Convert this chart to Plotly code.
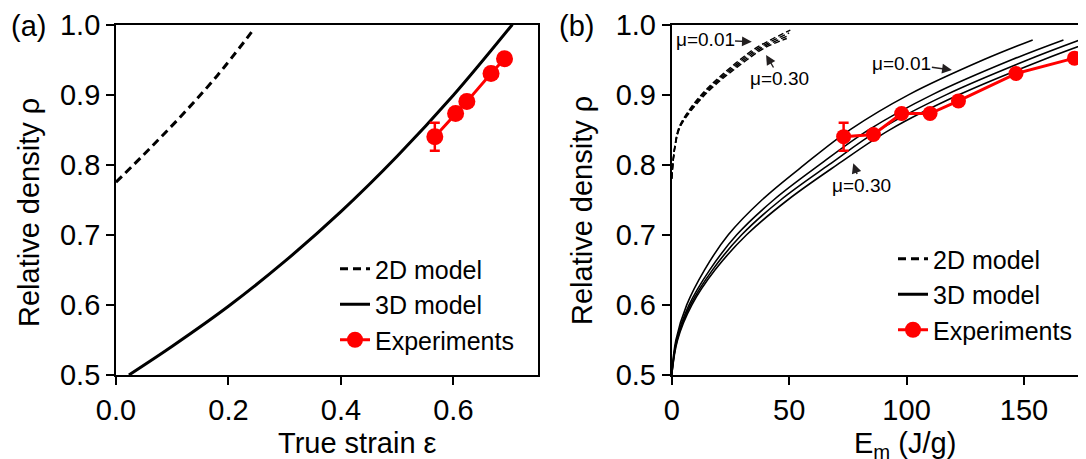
import plotly.graph_objects as go

# ---------------- Panel (a) data ----------------
strain_2d = [0.0, 0.06, 0.12, 0.18, 0.241]
rho_2d = [0.775, 0.823, 0.873, 0.927, 0.989]

strain_3d = [0.023, 0.1, 0.2, 0.3, 0.4, 0.5, 0.6, 0.705]
rho_3d = [0.5, 0.541, 0.598, 0.662, 0.733, 0.812, 0.899, 1.0]

strain_exp = [0.567, 0.604, 0.624, 0.667, 0.691]
rho_exp_a = [0.84, 0.873, 0.89, 0.93, 0.951]
err_exp_a = [0.02, 0, 0, 0, 0]

# ---------------- Panel (b) data ----------------
rho_levels_3d = [0.5, 0.55, 0.6, 0.65, 0.7, 0.75, 0.8, 0.85, 0.9, 0.95, 0.978]
E_3d_mu001 = [0, 1.8, 6.4, 14.0, 24.1, 38.5, 56.5, 76.0, 101.0, 133.0, 153.7]
E_3d_mu_b = [0, 2.1, 7.4, 16.2, 27.7, 43.5, 63.0, 84.0, 111.0, 145.0, 166.8]
E_3d_mu_c = [0, 2.3, 8.0, 17.4, 29.8, 46.5, 67.0, 88.5, 117.0, 152.0, 173.9]
E_3d_mu030 = [0, 2.5, 8.6, 18.5, 31.9, 49.5, 70.5, 93.0, 122.5, 158.5, 181.0]

E_2d_mu001 = [0, 1.3, 3.2, 8.5, 15.2, 22.0, 28.8, 35.6, 50.5]
rho_2d_mu001 = [0.78, 0.826, 0.854, 0.883, 0.909, 0.930, 0.949, 0.966, 0.992]
E_2d_mu_b = [0, 1.35, 3.35, 8.9, 15.8, 22.8, 29.8, 36.8, 50.0]
rho_2d_mu_b = [0.78, 0.826, 0.854, 0.883, 0.909, 0.930, 0.949, 0.966, 0.988]
E_2d_mu_c = [0, 1.4, 3.5, 9.3, 16.4, 23.6, 30.8, 38.0, 49.5]
rho_2d_mu_c = [0.78, 0.826, 0.854, 0.883, 0.909, 0.930, 0.949, 0.966, 0.984]
E_2d_mu030 = [0, 1.45, 3.65, 9.7, 17.0, 24.4, 31.8, 39.2, 49.0]
rho_2d_mu030 = [0.78, 0.826, 0.854, 0.883, 0.909, 0.930, 0.949, 0.966, 0.980]

E_exp = [73.2, 85.9, 97.9, 110.0, 122.1, 146.6, 171.5]
rho_exp_b = [0.84, 0.843, 0.873, 0.873, 0.891, 0.930, 0.952]
err_exp_b = [0.02, 0, 0, 0, 0, 0, 0]

yticks = [0.5, 0.6, 0.7, 0.8, 0.9, 1.0]
ytick_text = ["0.5", "0.6", "0.7", "0.8", "0.9", "1.0"]
xticks_a = [0.0, 0.2, 0.4, 0.6]
xtick_text_a = ["0.0", "0.2", "0.4", "0.6"]
xticks_b = [0, 50, 100, 150]
xtick_text_b = ["0", "50", "100", "150"]

# friction labels: text, text centre (E, rho), arrow tip (E, rho)
mu_text = ["μ=0.01", "μ=0.30", "μ=0.01", "μ=0.30"]
mu_text_E = [14.2, 46.1, 98.0, 80.6]
mu_text_rho = [0.978, 0.923, 0.945, 0.771]
mu_tip_E = [34.1, 40.2, 119.3, 77.3]
mu_tip_rho = [0.9755, 0.9566, 0.935, 0.802]

# the page body has an 8 px margin, so the figure is 8 px smaller and offset
OFF = 8
W, H = 1086 - OFF, 459 - OFF
FONT = "Liberation Sans, Arial, sans-serif"
RED = "#ff0000"
ARROW = "#231f20"


def px(v):
    return (v - OFF) / W


def py(v):
    return 1 - (v - OFF) / H


fig = go.Figure()

# ---- panel (a)
fig.add_trace(go.Scatter(x=strain_2d, y=rho_2d, mode="lines", name="2D model",
                         line=dict(color="black", width=3, dash="8px,5px", shape="spline"),
                         xaxis="x", yaxis="y", legend="legend"))
fig.add_trace(go.Scatter(x=strain_3d, y=rho_3d, mode="lines", name="3D model",
                         line=dict(color="black", width=3, shape="spline"),
                         xaxis="x", yaxis="y", legend="legend"))
fig.add_trace(go.Scatter(x=strain_exp, y=rho_exp_a, mode="lines+markers", name="Experiments",
                         line=dict(color=RED, width=3),
                         marker=dict(color=RED, size=17),
                         error_y=dict(type="data", array=err_exp_a, color=RED, thickness=2.5, width=5),
                         xaxis="x", yaxis="y", legend="legend"))

# ---- panel (b)
for ex, ry in [(E_2d_mu001, rho_2d_mu001), (E_2d_mu_b, rho_2d_mu_b),
               (E_2d_mu_c, rho_2d_mu_c), (E_2d_mu030, rho_2d_mu030)]:
    fig.add_trace(go.Scatter(x=ex, y=ry, mode="lines", name="2D model",
                             line=dict(color="black", width=1.4, dash="6px,3px", shape="spline"),
                             showlegend=False, xaxis="x2", yaxis="y2", legend="legend2"))
for ex in [E_3d_mu001, E_3d_mu_b, E_3d_mu_c, E_3d_mu030]:
    fig.add_trace(go.Scatter(x=ex, y=rho_levels_3d, mode="lines", name="3D model",
                             line=dict(color="black", width=1.6, shape="spline"),
                             showlegend=False, xaxis="x2", yaxis="y2", legend="legend2"))
fig.add_trace(go.Scatter(x=E_exp, y=rho_exp_b, mode="lines+markers", name="Experiments",
                         line=dict(color=RED, width=3),
                         marker=dict(color=RED, size=15),
                         error_y=dict(type="data", array=err_exp_b, color=RED, thickness=2.5, width=5),
                         showlegend=False, xaxis="x2", yaxis="y2", legend="legend2"))
# legend entries for panel (b)
fig.add_trace(go.Scatter(x=[None], y=[None], mode="lines", name="2D model",
                         line=dict(color="black", width=3, dash="8px,5px"),
                         xaxis="x2", yaxis="y2", legend="legend2"))
fig.add_trace(go.Scatter(x=[None], y=[None], mode="lines", name="3D model",
                         line=dict(color="black", width=3),
                         xaxis="x2", yaxis="y2", legend="legend2"))
fig.add_trace(go.Scatter(x=[None], y=[None], mode="lines+markers", name="Experiments",
                         line=dict(color=RED, width=3), marker=dict(color=RED, size=17),
                         xaxis="x2", yaxis="y2", legend="legend2"))

axis_common = dict(showline=True, linecolor="black", linewidth=1.8, ticks="outside",
                   ticklen=8, tickwidth=1.8, tickcolor="black", showgrid=False, zeroline=False,
                   automargin=False,
                   tickfont=dict(family=FONT, size=29, color="black"))

ydom = [py(375), py(24.5)]
fig.update_layout(
    template="none",
    width=W, height=H, autosize=False,
    margin=dict(l=0, r=0, t=0, b=0, autoexpand=False),
    paper_bgcolor="white", plot_bgcolor="white",
    font=dict(family=FONT, color="black"),
    xaxis=dict(domain=[px(116), px(537.7)], range=[0, 0.75], tickvals=xticks_a,
               ticktext=xtick_text_a, mirror=True, anchor="y", **axis_common),
    yaxis=dict(domain=ydom, range=[0.5, 1.0], tickvals=yticks, ticktext=ytick_text,
               mirror=True, anchor="x", **axis_common),
    xaxis2=dict(domain=[px(671.7), 1.0], range=[0, 176.4], tickvals=xticks_b,
                ticktext=xtick_text_b, mirror=True, anchor="y2", **axis_common),
    yaxis2=dict(domain=ydom, range=[0.5, 1.0], tickvals=yticks, ticktext=ytick_text,
                mirror=False, anchor="x2", **axis_common),
    legend=dict(x=px(335), y=py(246), xanchor="left", yanchor="top",
                bgcolor="rgba(0,0,0,0)", font=dict(family=FONT, size=25, color="black"),
                tracegroupgap=0),
    legend2=dict(x=px(893), y=py(236), xanchor="left", yanchor="top",
                 bgcolor="rgba(0,0,0,0)", font=dict(family=FONT, size=25, color="black"),
                 tracegroupgap=0),
)

ann = []
# panel labels
ann.append(dict(text="(a)", x=px(9), y=py(26), xref="paper", yref="paper",
                xanchor="left", yanchor="middle", showarrow=False,
                font=dict(family=FONT, size=29, color="black")))
ann.append(dict(text="(b)", x=px(557), y=py(26), xref="paper", yref="paper",
                xanchor="left", yanchor="middle", showarrow=False,
                font=dict(family=FONT, size=29, color="black")))
# axis titles
ann.append(dict(text="True strain ε", x=px(357), y=py(443), xref="paper", yref="paper",
                xanchor="center", yanchor="middle", showarrow=False,
                font=dict(family=FONT, size=29, color="black")))
ann.append(dict(text="E<sub>m</sub> (J/g)", x=px(905), y=py(445), xref="paper", yref="paper",
                xanchor="center", yanchor="middle", showarrow=False,
                font=dict(family=FONT, size=29, color="black")))
ann.append(dict(text="Relative density ρ", x=px(29), y=py(213), xref="paper", yref="paper",
                xanchor="center", yanchor="middle", showarrow=False, textangle=-90,
                font=dict(family=FONT, size=29, color="black")))
ann.append(dict(text="Relative density ρ", x=px(582), y=py(211), xref="paper", yref="paper",
                xanchor="center", yanchor="middle", showarrow=False, textangle=-90,
                font=dict(family=FONT, size=29, color="black")))

# friction-coefficient labels with arrows pointing at the curves
for t, tx, ty, hx, hy in zip(mu_text, mu_text_E, mu_text_rho, mu_tip_E, mu_tip_rho):
    ann.append(dict(text=t, x=hx, y=hy, ax=tx, ay=ty, xref="x2", yref="y2",
                    axref="x2", ayref="y2", showarrow=True, arrowhead=2,
                    arrowsize=1.4, arrowwidth=1.4, arrowcolor=ARROW, borderpad=0,
                    font=dict(family=FONT, size=19, color="black")))
fig.update_layout(annotations=ann)

fig.write_html("out.html")
